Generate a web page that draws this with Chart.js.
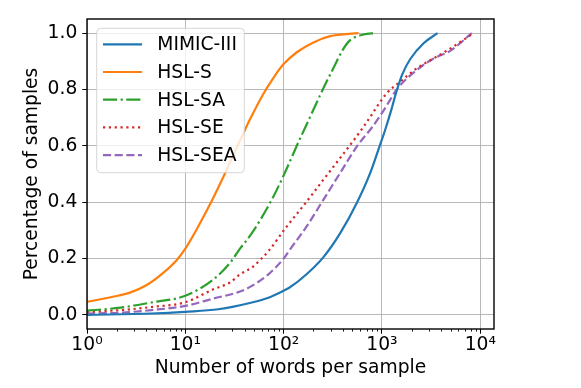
<!DOCTYPE html>
<html>
<head>
<meta charset="utf-8">
<script src="https://cdn.jsdelivr.net/npm/chart.js@4"></script>
<style>
  html, body { margin: 0; padding: 0; background: #fff; }
  #chart { display: block; }
</style>
</head>
<body>
<canvas id="chart" width="581" height="388"></canvas>
<script>
// values (x = words per sample, y = cumulative share)
const mimicX = [1, 4.5, 10, 21.7, 47.5, 70, 100, 116, 172, 254, 376, 556, 760, 944, 1079, 1250, 1396, 1600, 1940, 2650, 3680];
const mimicY = [0.0, 0.005, 0.011, 0.02, 0.044, 0.061, 0.086, 0.098, 0.145, 0.205, 0.29, 0.398, 0.504, 0.598, 0.657, 0.73, 0.79, 0.852, 0.908, 0.964, 1.0];

const hslSX = [1, 2, 2.74, 4.05, 6, 8.2, 10, 13.1, 18.6, 24.4, 29.7, 39, 45.6, 62.3, 80, 100, 136, 201, 297, 577];
const hslSY = [0.046, 0.067, 0.079, 0.106, 0.15, 0.195, 0.235, 0.305, 0.405, 0.49, 0.555, 0.645, 0.695, 0.785, 0.845, 0.89, 0.932, 0.967, 0.989, 1.0];

const hslSAX = [1, 2.2, 4.5, 10, 19.3, 28.5, 36, 47.5, 76, 100, 136, 190, 250, 321, 406, 475, 648, 867];
const hslSAY = [0.015, 0.026, 0.044, 0.068, 0.126, 0.185, 0.235, 0.29, 0.41, 0.495, 0.6, 0.71, 0.8, 0.876, 0.945, 0.975, 0.995, 1.0];

const hslSEX = [1, 2.2, 4.5, 10, 19.3, 28.5, 36, 47.5, 57.7, 70, 103, 172, 254, 376, 601, 702, 1122, 1535, 2265, 3350, 4950, 8550];
const hslSEY = [0.011, 0.017, 0.028, 0.045, 0.091, 0.115, 0.144, 0.168, 0.195, 0.226, 0.305, 0.403, 0.48, 0.557, 0.651, 0.685, 0.787, 0.828, 0.875, 0.91, 0.945, 1.0];

const hslSEAX = [1, 2.2, 4.5, 10, 19.3, 36, 47.5, 70, 100, 116, 172, 254, 376, 556, 790, 1037, 1452, 2265, 3350, 4950, 8200];
const hslSEAY = [0.005, 0.008, 0.017, 0.032, 0.058, 0.083, 0.103, 0.144, 0.2, 0.232, 0.315, 0.409, 0.504, 0.598, 0.665, 0.725, 0.805, 0.869, 0.91, 0.937, 1.0];

const seriesLabels = ['MIMIC-III', 'HSL-S', 'HSL-SA', 'HSL-SE', 'HSL-SEA'];
const xTickValues = [1, 10, 100, 1000, 10000];
const yTickValues = [0, 0.2, 0.4, 0.6, 0.8, 1.0];

const FONT = 'DejaVu Sans';
const FS = 18.7;
const SUP = ['⁰', '¹', '²', '³', '⁴', '⁵'];

function toPoints(xs, ys) {
    return xs.map((x, i) => ({ x: x, y: ys[i] }));
}

const LW = 2.2;
const datasets = [
    { label: seriesLabels[0], data: toPoints(mimicX, mimicY), borderColor: '#1f77b4', borderDash: [] },
    { label: seriesLabels[1], data: toPoints(hslSX, hslSY), borderColor: '#ff7f0e', borderDash: [] },
    { label: seriesLabels[2], data: toPoints(hslSAX, hslSAY), borderColor: '#2ca02c', borderDash: [6.4 * LW, 1.6 * LW, 1 * LW, 1.6 * LW] },
    { label: seriesLabels[3], data: toPoints(hslSEX, hslSEY), borderColor: '#d62728', borderDash: [1 * LW, 1.65 * LW] },
    { label: seriesLabels[4], data: toPoints(hslSEAX, hslSEAY), borderColor: '#9467bd', borderDash: [3.7 * LW, 1.6 * LW] }
].map(d => ({ ...d, borderWidth: LW, fill: false, pointRadius: 0, cubicInterpolationMode: 'monotone' }));

// box round the plot area + minor ticks on the log axis
const framePlugin = {
    id: 'frame',
    afterDraw(chart) {
        const { ctx, chartArea: a } = chart;
        const xs = chart.scales.x;
        ctx.save();
        ctx.strokeStyle = '#000';
        ctx.lineWidth = 0.9;
        for (let dec = 1; dec < 100000; dec *= 10) {
            for (let m = 2; m < 10; m++) {
                const v = dec * m;
                if (v > xs.max) break;
                const px = Math.round(xs.getPixelForValue(v)) + 0.5;
                ctx.beginPath();
                ctx.moveTo(px, a.bottom);
                ctx.lineTo(px, a.bottom + 2.6);
                ctx.stroke();
            }
        }
        ctx.lineWidth = 1.4;
        ctx.strokeRect(a.left, a.top, a.right - a.left, a.bottom - a.top);
        ctx.restore();
    }
};

// matplotlib-like legend box in the upper left
const legendPlugin = {
    id: 'boxLegend',
    afterDatasetsDraw(chart) {
        const { ctx, chartArea: a } = chart;
        const bx = a.left + 9.7, by = a.top + 9.3, bw = 147.6, bh = 144.4, r = 4;
        ctx.save();
        ctx.beginPath();
        ctx.roundRect(bx, by, bw, bh, r);
        ctx.fillStyle = 'rgba(255,255,255,0.8)';
        ctx.fill();
        ctx.strokeStyle = 'rgba(204,204,204,0.8)';
        ctx.lineWidth = 1;
        ctx.stroke();
        ctx.font = FS + 'px "' + FONT + '"';
        ctx.textBaseline = 'middle';
        ctx.textAlign = 'left';
        chart.data.datasets.forEach((ds, i) => {
            const y = by + 16 + i * 27.7;
            ctx.beginPath();
            ctx.setLineDash(ds.borderDash);
            ctx.strokeStyle = ds.borderColor;
            ctx.lineWidth = LW;
            ctx.moveTo(bx + 6.3, y);
            ctx.lineTo(bx + 45.3, y);
            ctx.stroke();
            ctx.setLineDash([]);
            ctx.fillStyle = '#000';
            ctx.fillText(ds.label, bx + 60.6, y + 1);
        });
        ctx.restore();
    }
};

const tickFont = { family: FONT, size: FS };

new Chart(document.getElementById('chart'), {
    type: 'line',
    data: { datasets },
    options: {
        responsive: false,
        animation: false,
        events: [],
        layout: { padding: { top: 19, right: 87, left: 0, bottom: 0 } },
        plugins: { legend: { display: false }, tooltip: { enabled: false } },
        scales: {
            x: {
                type: 'logarithmic',
                min: 1,
                max: 13780,
                afterBuildTicks: s => { s.ticks = xTickValues.map(v => ({ value: v })); },
                afterFit: s => { s.height = 59; },
                ticks: {
                    autoSkip: false,
                    maxRotation: 0,
                    padding: 0,
                    color: '#000',
                    font: tickFont,
                    callback: v => '10' + SUP[Math.round(Math.log10(v))]
                },
                grid: { color: '#b0b0b0', lineWidth: 0.9, tickLength: 4.7, tickColor: '#000', tickWidth: 1 },
                border: { display: false },
                title: {
                    display: true,
                    text: 'Number of words per sample',
                    color: '#000',
                    font: { family: FONT, size: FS },
                    padding: { top: 0, bottom: 9 }
                }
            },
            y: {
                type: 'linear',
                min: -0.05,
                max: 1.05,
                afterBuildTicks: s => { s.ticks = yTickValues.map(v => ({ value: v })); },
                afterFit: s => { s.width = 87; },
                ticks: {
                    padding: 5,
                    color: '#000',
                    font: tickFont,
                    callback: v => v.toFixed(1)
                },
                grid: { color: '#b0b0b0', lineWidth: 0.9, tickLength: 4.7, tickColor: '#000', tickWidth: 1 },
                border: { display: false },
                title: {
                    display: true,
                    text: 'Percentage of samples',
                    color: '#000',
                    font: { family: FONT, size: FS },
                    padding: { top: 21.3, bottom: 0 }
                }
            }
        }
    },
    plugins: [legendPlugin, framePlugin]
});
</script>
</body>
</html>
